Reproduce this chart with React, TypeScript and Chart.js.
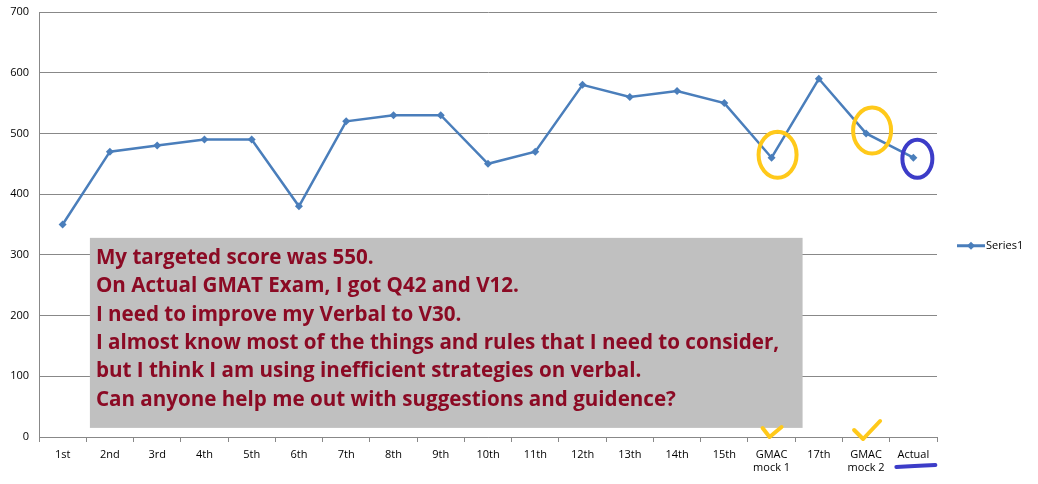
import React, { useEffect, useRef } from "react";
import { Chart, registerables } from "chart.js";

Chart.register(...registerables);

const categories: (string | string[])[] = [
  "1st", "2nd", "3rd", "4th", "5th", "6th", "7th", "8th", "9th", "10th",
  "11th", "12th", "13th", "14th", "15th", ["GMAC", "mock 1"], "17th", ["GMAC", "mock 2"], "Actual",
];
const series1: number[] = [350, 470, 480, 490, 490, 380, 520, 530, 530, 450, 470, 580, 560, 570, 550, 460, 590, 500, 460];
const yTicks = { min: 0, max: 700, step: 100 };
const seriesName = "Series1";
const noteLines: string[] = [
  "My targeted score was 550.",
  "On Actual GMAT Exam, I got Q42 and V12.",
  "I need to improve my Verbal to V30.",
  "I almost know most of the things and rules that I need to consider,",
  "but I think I am using inefficient strategies on verbal.",
  "Can anyone help me out with suggestions and guidence?",
];
const yellowCircled = [15, 17];
const blueCircled = [18];

const LINE = "#4A7EBB";
const FONT = "'Open Sans', 'DejaVu Sans', sans-serif";

const overlay = {
  id: "overlay",
  afterDatasetsDraw(chart: any) {
    const ctx = chart.ctx;
    const xs = chart.scales.x;
    const ys = chart.scales.y;
    // text box
    const bx0 = xs.getPixelForValue(1) - 20;
    const bx1 = xs.getPixelForValue(15) + 31;
    const by0 = ys.getPixelForValue(328);
    const by1 = ys.getPixelForValue(15);
    ctx.save();
    ctx.fillStyle = "#C0C0C0";
    ctx.fillRect(bx0, by0, bx1 - bx0, by1 - by0);
    ctx.fillStyle = "#8B0A24";
    ctx.font = `bold 20.6px ${FONT}`;
    ctx.textBaseline = "alphabetic";
    ctx.textAlign = "left";
    noteLines.forEach((l, i) => ctx.fillText(l, bx0 + 6, by0 + 26 + i * 28.4));
    // circles
    ctx.lineWidth = 4;
    ctx.strokeStyle = "#FFC91A";
    yellowCircled.forEach((i) => {
      const px = xs.getPixelForValue(i);
      const py = ys.getPixelForValue(series1[i]);
      ctx.beginPath();
      ctx.ellipse(px + 6, py - 3, 19, 23, 0, 0, Math.PI * 2);
      ctx.stroke();
    });
    ctx.strokeStyle = "#3C3CC8";
    blueCircled.forEach((i) => {
      const px = xs.getPixelForValue(i);
      const py = ys.getPixelForValue(series1[i]);
      ctx.beginPath();
      ctx.ellipse(px + 4, py + 1, 15, 19, 0, 0, Math.PI * 2);
      ctx.stroke();
    });
    // check marks
    ctx.strokeStyle = "#FFC91A";
    ctx.lineCap = "round";
    ctx.lineJoin = "round";
    ctx.lineWidth = 4;
    const bottom = chart.chartArea.bottom;
    const c1 = xs.getPixelForValue(15);
    ctx.beginPath();
    ctx.moveTo(c1 - 9, bottom - 9);
    ctx.lineTo(c1 - 2, bottom);
    ctx.lineTo(c1 + 10, bottom - 10);
    ctx.stroke();
    const c2 = xs.getPixelForValue(17);
    ctx.beginPath();
    ctx.moveTo(c2 - 12, bottom - 7);
    ctx.lineTo(c2 - 3, bottom + 2);
    ctx.lineTo(c2 + 14, bottom - 16);
    ctx.stroke();
    // underline
    const c3 = xs.getPixelForValue(18);
    ctx.strokeStyle = "#3C3CC8";
    ctx.lineWidth = 4;
    ctx.beginPath();
    ctx.moveTo(c3 - 17, bottom + 30);
    ctx.quadraticCurveTo(c3, bottom + 29, c3 + 22, bottom + 28);
    ctx.stroke();
    // legend
    const lx = chart.chartArea.right + 20;
    const ly = ys.getPixelForValue(315);
    ctx.strokeStyle = LINE;
    ctx.lineWidth = 3;
    ctx.lineCap = "butt";
    ctx.beginPath();
    ctx.moveTo(lx, ly);
    ctx.lineTo(lx + 28, ly);
    ctx.stroke();
    ctx.fillStyle = LINE;
    ctx.beginPath();
    ctx.moveTo(lx + 14, ly - 4);
    ctx.lineTo(lx + 18, ly);
    ctx.lineTo(lx + 14, ly + 4);
    ctx.lineTo(lx + 10, ly);
    ctx.closePath();
    ctx.fill();
    ctx.fillStyle = "#000";
    ctx.font = `11px ${FONT}`;
    ctx.textBaseline = "middle";
    ctx.fillText(seriesName, lx + 29, ly);
    ctx.restore();
  },
};

export default function App() {
  const ref = useRef<HTMLCanvasElement>(null);
  useEffect(() => {
    document.body.style.margin = "0";
    const chart = new Chart(ref.current!, {
      type: "line",
      data: {
        labels: categories,
        datasets: [
          {
            label: seriesName,
            data: series1,
            borderColor: LINE,
            backgroundColor: LINE,
            borderWidth: 2.5,
            pointStyle: "rectRot",
            pointRadius: 4,
            pointBorderWidth: 0,
            tension: 0,
          },
        ],
      },
      options: {
        animation: false,
        responsive: false,
        layout: { padding: { top: 12, right: 101, left: 0, bottom: 0 } },
        plugins: { legend: { display: false }, tooltip: { enabled: false } },
        scales: {
          x: {
            offset: true,
            grid: { drawOnChartArea: false, drawTicks: true, tickLength: 5, color: "#888", offset: true },
            border: { display: true, color: "#888", width: 1 },
            ticks: { color: "#000", font: { family: FONT, size: 11 }, padding: 6, maxRotation: 0, autoSkip: false },
            afterFit: (s: any) => { s.height = 47; s.paddingLeft = 0; s.paddingRight = 0; },
          },
          y: {
            min: yTicks.min,
            max: yTicks.max,
            grid: { color: "#888", drawTicks: false, lineWidth: 1 },
            border: { display: true, color: "#888", width: 1 },
            ticks: { stepSize: yTicks.step, color: "#000", font: { family: FONT, size: 11 }, padding: 10 },
            afterFit: (s: any) => { s.width = 39; s.paddingTop = 0; s.paddingBottom = 0; },
          },
        },
      },
      plugins: [overlay],
    });
    return () => chart.destroy();
  }, []);
  return <canvas ref={ref} width={1038} height={484} style={{ display: "block" }} />;
}
